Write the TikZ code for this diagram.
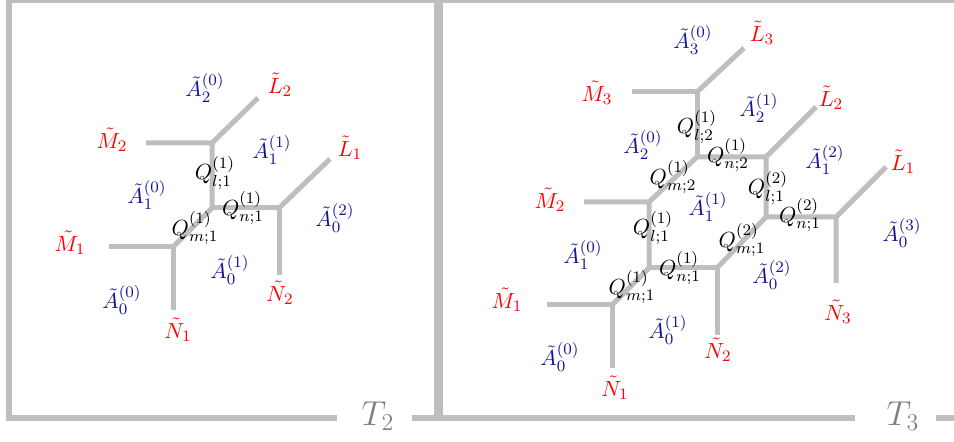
\documentclass[tikz,border=0pt]{standalone}
\usepackage{amsmath,amssymb}
\usetikzlibrary{positioning}
\definecolor{tropGray}{RGB}{190,190,190}
\definecolor{tropRed}{RGB}{255,0,0}
\definecolor{tropBlue}{RGB}{20,20,150}

\begin{document}
\begin{tikzpicture}[x=0.5pt,y=-0.5pt,
   edge/.style={draw=tropGray,line width=2.5pt},
   frame/.style={draw=tropGray,line width=3pt},
   bnd/.style={inner sep=1pt,text=tropRed,font=\fontsize{11}{13}\selectfont},
   cham/.style={inner sep=1pt,text=tropBlue,font=\fontsize{11}{13}\selectfont},
   glue/.style={inner sep=1pt,text=black,font=\fontsize{11}{13}\selectfont},
   tag/.style={inner sep=1pt,text=gray,font=\fontsize{17}{20}\selectfont}]
  \useasboundingbox (0,0) rectangle (954,442);
  \clip (0,0) rectangle (954,442);

  % frames of the two panels
  \draw[frame] (337,418) -- (9,418) -- (9,0) -- (437,0) -- (437,418) -- (412,418);
  \draw[frame] (855,418) -- (440,418) -- (440,0) -- (958,0) -- (958,418) -- (936,418);
  \node[tag] (tTwo) at (378,416) {$T_2$};
  \node[tag] (tThree) at (903,416) {$T_3$};

  % left panel: T_2
  \coordinate (a1) at (173,247);
  \coordinate (a2) at (212,208);
  \coordinate (a3) at (212,143);
  \coordinate (a4) at (279,208);
  \coordinate (am1) at (109,247);
  \coordinate (an1) at (173,310);
  \coordinate (am2) at (146,143);
  \coordinate (al2) at (258,98);
  \coordinate (an2) at (279,275);
  \coordinate (al1) at (330,159);
  \draw[edge] (am1) -- (a1) -- (an1);
  \draw[edge] (a1) -- (a2) -- (a3) -- (am2);
  \draw[edge] (a3) -- (al2);
  \draw[edge] (a2) -- (a4) -- (an2);
  \draw[edge] (a4) -- (al1);

  \node[bnd] (aM1) at (70,243) {$\tilde{M}_1$};
  \node[bnd] (aM2) at (112,140) {$\tilde{M}_2$};
  \node[bnd] (aN1) at (178,330) {$\tilde{N}_1$};
  \node[bnd] (aN2) at (280,293) {$\tilde{N}_2$};
  \node[bnd] (aL1) at (350,148) {$\tilde{L}_1$};
  \node[bnd] (aL2) at (280,85) {$\tilde{L}_2$};
  \node[cham] (aA00) at (122,300) {$\tilde{A}_0^{(0)}$};
  \node[cham] (aA01) at (230,270) {$\tilde{A}_0^{(1)}$};
  \node[cham] (aA02) at (335,218) {$\tilde{A}_0^{(2)}$};
  \node[cham] (aA10) at (147,195) {$\tilde{A}_1^{(0)}$};
  \node[cham] (aA11) at (272,150) {$\tilde{A}_1^{(1)}$};
  \node[cham] (aA20) at (205,88) {$\tilde{A}_2^{(0)}$};
  \node[glue] (aQl) at (215,173) {$Q_{l;1}^{(1)}$};
  \node[glue] (aQn) at (243,208) {$Q_{n;1}^{(1)}$};
  \node[glue] (aQm) at (195,228) {$Q_{m;1}^{(1)}$};

  % right panel: T_3
  \coordinate (b1) at (612,305);
  \coordinate (b2) at (649,268);
  \coordinate (b3) at (717,268);
  \coordinate (b4) at (649,202);
  \coordinate (b5) at (697,157);
  \coordinate (b6) at (766,157);
  \coordinate (b7) at (766,217);
  \coordinate (b8) at (836,217);
  \coordinate (b9) at (697,92);
  \coordinate (bm1) at (547,305);
  \coordinate (bn1) at (612,368);
  \coordinate (bm2) at (584,202);
  \coordinate (bn2) at (717,335);
  \coordinate (bm3) at (632,92);
  \coordinate (bl3) at (744,48);
  \coordinate (bl2) at (816,107);
  \coordinate (bn3) at (836,283);
  \coordinate (bl1) at (886,167);
  \draw[edge] (bm1) -- (b1) -- (bn1);
  \draw[edge] (b1) -- (b2) -- (b4) -- (bm2);
  \draw[edge] (b2) -- (b3) -- (bn2);
  \draw[edge] (b3) -- (b7) -- (b8) -- (bn3);
  \draw[edge] (b8) -- (bl1);
  \draw[edge] (b4) -- (b5) -- (b6) -- (b7);
  \draw[edge] (b6) -- (bl2);
  \draw[edge] (b5) -- (b9) -- (bm3);
  \draw[edge] (b9) -- (bl3);

  \node[bnd] (bM1) at (507,300) {$\tilde{M}_1$};
  \node[bnd] (bM2) at (550,200) {$\tilde{M}_2$};
  \node[bnd] (bM3) at (597,93) {$\tilde{M}_3$};
  \node[bnd] (bN1) at (615,388) {$\tilde{N}_1$};
  \node[bnd] (bN2) at (718,350) {$\tilde{N}_2$};
  \node[bnd] (bN3) at (838,312) {$\tilde{N}_3$};
  \node[bnd] (bL1) at (903,162) {$\tilde{L}_1$};
  \node[bnd] (bL2) at (831,98) {$\tilde{L}_2$};
  \node[bnd] (bL3) at (762,33) {$\tilde{L}_3$};
  \node[cham] (bA00) at (560,357) {$\tilde{A}_0^{(0)}$};
  \node[cham] (bA01) at (668,330) {$\tilde{A}_0^{(1)}$};
  \node[cham] (bA02) at (772,275) {$\tilde{A}_0^{(2)}$};
  \node[cham] (bA03) at (902,233) {$\tilde{A}_0^{(3)}$};
  \node[cham] (bA10) at (583,255) {$\tilde{A}_1^{(0)}$};
  \node[cham] (bA11) at (708,207) {$\tilde{A}_1^{(1)}$};
  \node[cham] (bA12) at (825,160) {$\tilde{A}_1^{(2)}$};
  \node[cham] (bA20) at (643,145) {$\tilde{A}_2^{(0)}$};
  \node[cham] (bA21) at (759,108) {$\tilde{A}_2^{(1)}$};
  \node[cham] (bA30) at (693,40) {$\tilde{A}_3^{(0)}$};
  \node[glue] (bQl1) at (653,228) {$Q_{l;1}^{(1)}$};
  \node[glue] (bQn1) at (680,268) {$Q_{n;1}^{(1)}$};
  \node[glue] (bQm1) at (632,287) {$Q_{m;1}^{(1)}$};
  \node[glue] (bQm12) at (742,240) {$Q_{m;1}^{(2)}$};
  \node[glue] (bQl12) at (768,188) {$Q_{l;1}^{(2)}$};
  \node[glue] (bQn12) at (800,215) {$Q_{n;1}^{(2)}$};
  \node[glue] (bQm2) at (673,177) {$Q_{m;2}^{(1)}$};
  \node[glue] (bQn2) at (728,155) {$Q_{n;2}^{(1)}$};
  \node[glue] (bQl2) at (697,127) {$Q_{l;2}^{(1)}$};
\end{tikzpicture}
\end{document}
